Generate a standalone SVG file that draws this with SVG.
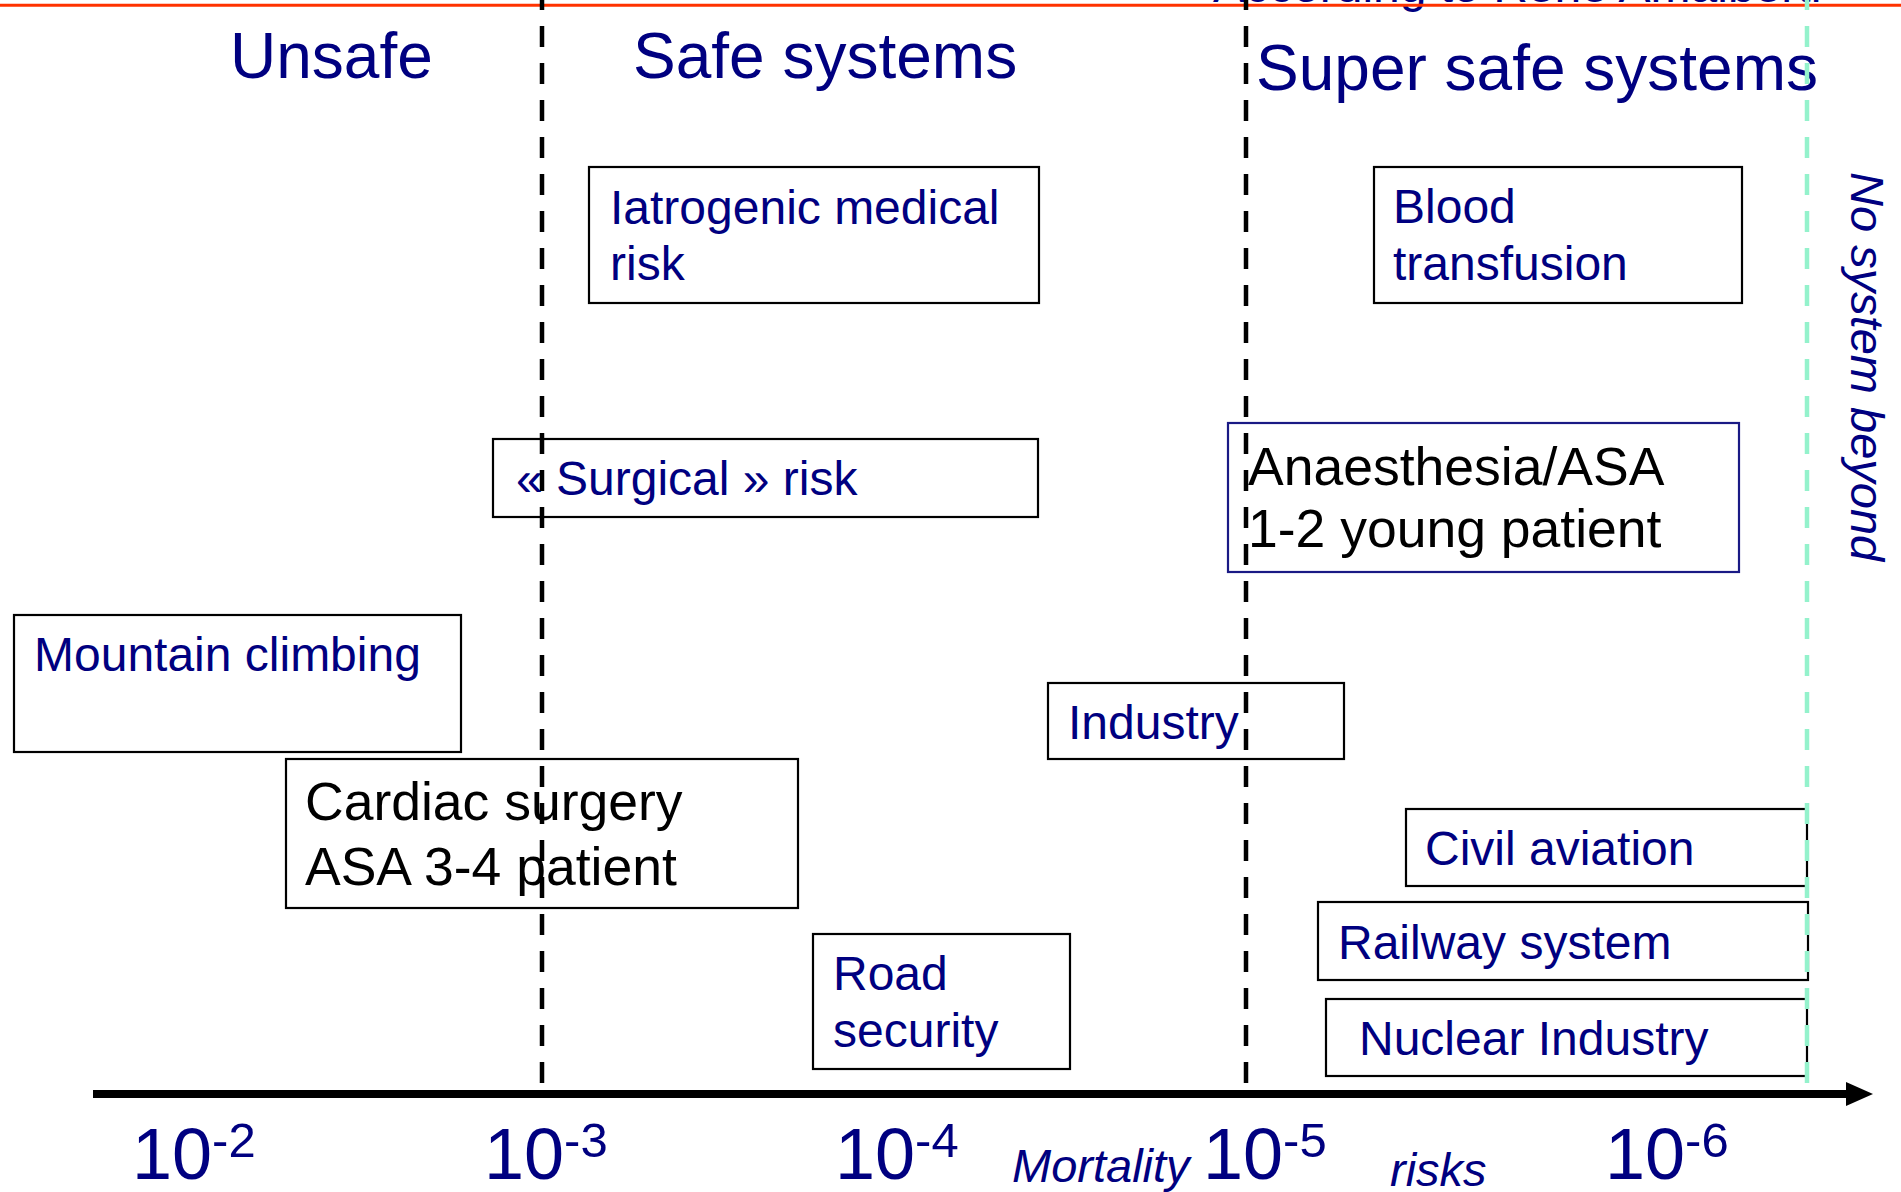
<svg xmlns="http://www.w3.org/2000/svg" width="1901" height="1192" viewBox="0 0 1901 1192">
<defs>
<style>
.bg{fill:#ffffff}
.box{fill:none;stroke:#000000;stroke-width:2.2}
.boxb{fill:none;stroke:#1a1a85;stroke-width:2.2}
.lbl{font-family:"Liberation Sans",Arial,sans-serif;font-size:48px;fill:#000080}
.blk{font-family:"Liberation Sans",Arial,sans-serif;font-size:53.5px;fill:#000000}
.head{font-family:"Liberation Sans",Arial,sans-serif;font-size:64px;fill:#000080}
.tick{font-family:"Liberation Sans",Arial,sans-serif;font-size:72px;fill:#000080}
.sup{font-size:49px}
.ital{font-family:"Liberation Sans",Arial,sans-serif;font-size:47px;font-style:italic;fill:#000080}
.div{stroke:#000000;stroke-width:4.5;stroke-dasharray:21 16;fill:none}
.divg{stroke:#94f2cc;stroke-width:4.5;stroke-dasharray:21 16;fill:none}
</style>
<marker id="arrow" markerUnits="userSpaceOnUse" markerWidth="28" markerHeight="26" refX="0" refY="12" orient="auto">
<path d="M0,0 L27,12 L0,24 z" fill="#000000"/>
</marker>
</defs>
<rect class="bg" x="0" y="0" width="1901" height="1192"/>

<g id="credit">
<text class="lbl" x="1213" y="2">According to René Amalberti</text>
<line x1="0" y1="5.3" x2="1901" y2="5.3" stroke="#ff3300" stroke-width="3"/>
</g>

<g id="headings">
<text class="head" x="230" y="78">Unsafe</text>
<text class="head" x="633" y="78">Safe systems</text>
<text class="head" x="1256" y="90">Super safe systems</text>
</g>

<g id="node-iatrogenic">
<rect class="box" x="589" y="167" width="450" height="136"/>
<text class="lbl" x="610" y="224">Iatrogenic medical</text>
<text class="lbl" x="610" y="280">risk</text>
</g>

<g id="node-blood">
<rect class="box" x="1374" y="167" width="368" height="136"/>
<text class="lbl" x="1393" y="223">Blood</text>
<text class="lbl" x="1393" y="280">transfusion</text>
</g>

<g id="node-surgical">
<rect class="box" x="493" y="439" width="545" height="78"/>
<text class="lbl" x="516" y="495">« Surgical » risk</text>
</g>

<g id="node-anaesthesia">
<rect class="boxb" x="1228" y="423" width="511" height="149"/>
<text class="blk" x="1248" y="485">Anaesthesia/ASA</text>
<text class="blk" x="1248" y="547">1-2 young patient</text>
</g>

<g id="node-mountain">
<rect class="box" x="14" y="615" width="447" height="137"/>
<text class="lbl" x="34" y="671" font-size="47">Mountain climbing</text>
</g>

<g id="node-industry">
<rect class="box" x="1048" y="683" width="296" height="76"/>
<text class="lbl" x="1068" y="739">Industry</text>
</g>

<g id="node-cardiac">
<rect class="box" x="286" y="759" width="512" height="149"/>
<text class="blk" x="305" y="820">Cardiac surgery</text>
<text class="blk" x="305" y="885">ASA 3-4 patient</text>
</g>

<g id="node-civil">
<rect class="box" x="1406" y="809" width="401" height="77"/>
<text class="lbl" x="1425" y="865">Civil aviation</text>
</g>

<g id="node-railway">
<rect class="box" x="1318" y="902" width="490" height="78"/>
<text class="lbl" x="1338" y="959">Railway system</text>
</g>

<g id="node-road">
<rect class="box" x="813" y="934" width="257" height="135"/>
<text class="lbl" x="833" y="990">Road</text>
<text class="lbl" x="833" y="1047">security</text>
</g>

<g id="node-nuclear">
<rect class="box" x="1326" y="999" width="481" height="77"/>
<text class="lbl" x="1359" y="1055">Nuclear Industry</text>
</g>

<g id="connectors">
<line class="div" x1="542" y1="-11" x2="542" y2="1094"/>
<line class="div" x1="1246" y1="-11" x2="1246" y2="1094"/>
<line class="divg" x1="1807" y1="-11" x2="1807" y2="1094"/>
<line x1="93" y1="1094" x2="1846" y2="1094" stroke="#000000" stroke-width="8" marker-end="url(#arrow)"/>
</g>

<g id="beyond">
<text class="ital" font-size="49" transform="translate(1851,172) rotate(90)">No system beyond</text>
</g>

<g id="scale">
<text class="tick" x="132" y="1179">10<tspan class="sup" dy="-22">-2</tspan></text>
<text class="tick" x="484" y="1179">10<tspan class="sup" dy="-22">-3</tspan></text>
<text class="tick" x="835" y="1179">10<tspan class="sup" dy="-22">-4</tspan></text>
<text class="tick" x="1203" y="1179">10<tspan class="sup" dy="-22">-5</tspan></text>
<text class="tick" x="1605" y="1179">10<tspan class="sup" dy="-22">-6</tspan></text>
<text class="ital" x="1012" y="1182">Mortality</text>
<text class="ital" x="1390" y="1186">risks</text>
</g>
</svg>
